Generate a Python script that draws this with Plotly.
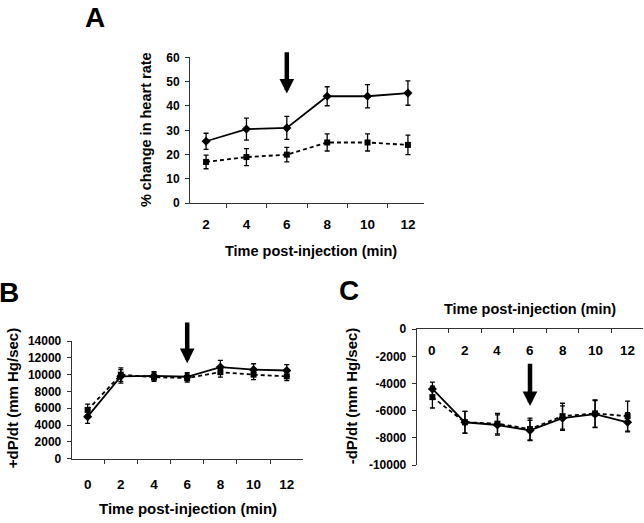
import plotly.graph_objects as go

# ---------------- data ----------------
A_cats = ["2", "4", "6", "8", "10", "12"]
A_solid = [25.5, 30.5, 31.0, 44.0, 44.0, 45.3]
A_solid_err = [3.3, 4.5, 4.7, 3.9, 4.8, 5.0]
A_dash = [17.0, 19.0, 20.0, 25.0, 25.0, 24.0]
A_dash_err = [2.8, 3.5, 3.0, 3.5, 3.5, 4.0]
A_yticks = [0, 10, 20, 30, 40, 50, 60]

BC_cats = ["0", "2", "4", "6", "8", "10", "12"]
B_solid = [5000, 9800, 9850, 9750, 10900, 10600, 10500]
B_solid_err = [800, 800, 500, 500, 800, 700, 700]
B_dash = [5800, 10000, 9700, 9600, 10300, 10000, 9800]
B_dash_err = [700, 800, 500, 500, 600, 600, 500]
B_yticks = [0, 2000, 4000, 6000, 8000, 10000, 12000, 14000]

C_solid = [-4400, -6850, -7050, -7450, -6550, -6250, -6850]
C_solid_err = [500, 800, 750, 750, 900, 1000, 700]
C_dash = [-5000, -6850, -6950, -7350, -6400, -6200, -6400]
C_dash_err = [800, 800, 750, 800, 950, 1000, 1100]
C_yticks = [0, -2000, -4000, -6000, -8000, -10000]

W, H = 644, 523
FONT = "Liberation Sans"
BLACK = "#000000"


def px(x):
    return x / W


def py(y):
    return 1 - y / H


fig = go.Figure()


def add_pair(cats, solid, solid_err, dash, dash_err, xa, ya):
    fig.add_trace(go.Scatter(
        x=cats, y=dash, xaxis=xa, yaxis=ya, mode="lines+markers",
        line=dict(color=BLACK, width=1.8, dash="4px,3px"),
        marker=dict(symbol="square", size=6, color=BLACK),
        error_y=dict(type="data", array=dash_err, color=BLACK, thickness=1.3, width=2.5),
        showlegend=False, cliponaxis=False))
    fig.add_trace(go.Scatter(
        x=cats, y=solid, xaxis=xa, yaxis=ya, mode="lines+markers",
        line=dict(color=BLACK, width=1.8),
        marker=dict(symbol="diamond", size=7, color=BLACK),
        error_y=dict(type="data", array=solid_err, color=BLACK, thickness=1.3, width=2.5),
        showlegend=False, cliponaxis=False))


add_pair(A_cats, A_solid, A_solid_err, A_dash, A_dash_err, "x", "y")
add_pair(BC_cats, B_solid, B_solid_err, B_dash, B_dash_err, "x2", "y2")
add_pair(BC_cats, C_solid, C_solid_err, C_dash, C_dash_err, "x3", "y3")

axis_common = dict(showline=True, linecolor="#333333", linewidth=1, ticks="outside",
                   ticklen=4, tickcolor="#333333", tickwidth=1, showgrid=False,
                   zeroline=False, fixedrange=True)
xfont = dict(family=FONT, size=13.5, color=BLACK, weight="bold")
yfont = dict(family=FONT, size=12, color=BLACK, weight="bold")

fig.update_layout(
    width=W, height=H, margin=dict(l=0, r=0, t=0, b=0),
    paper_bgcolor="white", plot_bgcolor="white",
    font=dict(family=FONT, color=BLACK),
    xaxis=dict(axis_common, type="category", tickson="boundaries",
               domain=[px(190), px(424)], anchor="y", tickfont=xfont,
               ticklabelstandoff=8),
    yaxis=dict(axis_common, domain=[py(201.7), py(51.7)], anchor="x",
               range=[0, 60], tickvals=A_yticks, ticktext=[str(v) for v in A_yticks],
               tickfont=yfont, ticklabelstandoff=3),
    xaxis2=dict(axis_common, type="category", tickson="boundaries",
                domain=[px(71.7), px(302.7)], anchor="y2", tickfont=xfont,
                ticklabelstandoff=13),
    yaxis2=dict(axis_common, domain=[py(464), py(343.3)], anchor="x2",
                range=[0, 14000], tickvals=B_yticks, ticktext=[str(v) for v in B_yticks],
                tickfont=yfont, ticklabelstandoff=3),
    xaxis3=dict(axis_common, type="category", tickson="boundaries", side="top",
                ticks="inside", showticklabels=False,
                domain=[px(416.7), px(643.3)], anchor="y3"),
    yaxis3=dict(axis_common, domain=[py(470.7), py(331)], anchor="x3",
                range=[-10000, 0], tickvals=C_yticks, ticktext=[str(v) for v in C_yticks],
                tickfont=yfont, ticklabelstandoff=3),
)

# panel C category labels sit just under its top axis line
for i, cat in enumerate(BC_cats):
    fig.add_annotation(text=cat, x=i, xref="x3", y=py(353), yref="paper",
                       showarrow=False, font=xfont, xanchor="center", yanchor="middle")

# arrows marking the 6-min point
arrow_style = dict(text="", showarrow=True, arrowhead=2, arrowsize=0.65,
                   arrowwidth=4.5, arrowcolor=BLACK, standoff=0)
fig.add_annotation(x=2, y=45.1, ax=2, ay=62.7, xref="x", yref="y", axref="x", ayref="y", **arrow_style)
fig.add_annotation(x=3, y=11367, ax=3, ay=16390, xref="x2", yref="y2", axref="x2", ayref="y2", **arrow_style)
fig.add_annotation(x=3, y=-5655, ax=3, ay=-2434, xref="x3", yref="y3", axref="x3", ayref="y3", **arrow_style)

# texts
tfont = dict(family=FONT, size=14.5, color=BLACK, weight="bold")
lfont = dict(family=FONT, size=28, color=BLACK, weight="bold")


def label(txt, x, y, font, angle=0):
    fig.add_annotation(text=txt, x=px(x), y=py(y), xref="paper", yref="paper",
                       showarrow=False, font=font, textangle=angle,
                       xanchor="center", yanchor="middle")


label("A", 95, 11, lfont)
label("B", 9, 293, lfont)
label("C", 349, 291, lfont)
label("Time post-injection (min)", 311, 251, tfont)
label("% change in heart rate", 146, 126.5, tfont, -90)
label("Time post-injection (min)", 188, 515, dict(tfont, size=15))
label("+dP/dt (mm Hg/sec)", 12, 402, dict(tfont, size=15), -90)
label("Time post-injection (min)", 530, 310, tfont)
label("-dP/dt (mm Hg/sec)", 351, 399, dict(tfont, size=15), -90)

fig.write_html("out.html", config={"displayModeBar": False},
               post_script="document.body.style.margin='0';document.body.style.overflow='hidden';")
